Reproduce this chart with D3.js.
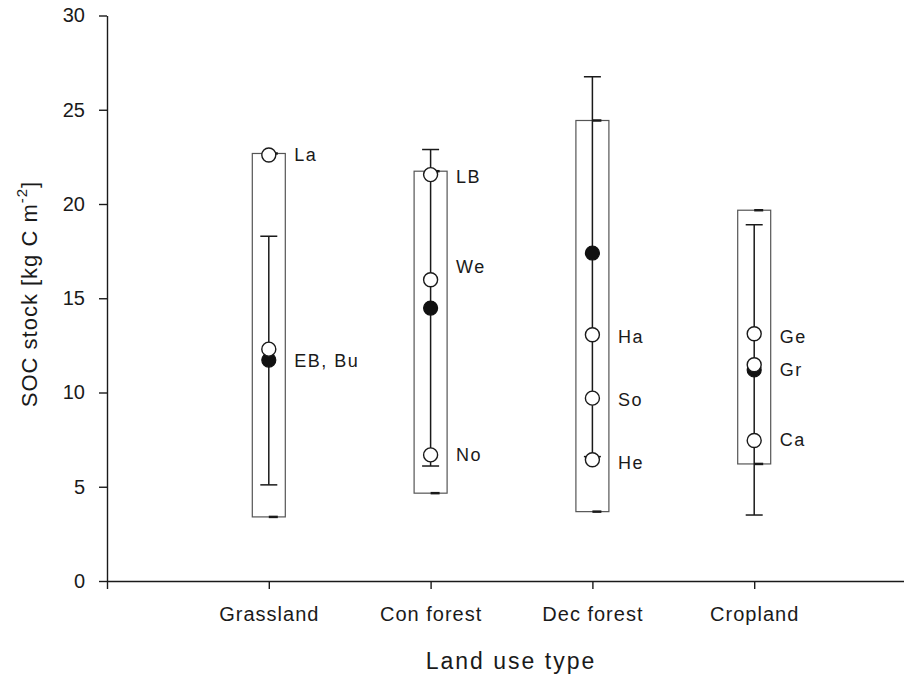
<!DOCTYPE html>
<html>
<head>
<meta charset="utf-8">
<script src="https://cdn.jsdelivr.net/npm/d3@7"></script>
<style>
  body { margin: 0; background: #fff; }
  svg { display: block; font-family: Arial, "Liberation Sans", sans-serif; }
</style>
</head>
<body>
<div id="chart"></div>
<script>
// ─── Data ───
var categories = ['Grassland', 'Con forest', 'Dec forest', 'Cropland'];
var boxLow   = [3.4, 4.66, 3.68, 6.21];
var boxHigh  = [22.68, 21.74, 24.43, 19.67];
var meanVal  = [11.72, 14.48, 17.4, 11.2];
var errLow   = [5.1, 6.1, 6.6, 3.5];
var errHigh  = [18.29, 22.89, 26.75, 18.9];

// individual sites: category index, site value, label text, label anchor value
var siteCat   = [0, 0, 1, 1, 1, 2, 2, 2, 3, 3, 3];
var siteValue = [22.6, 12.3, 21.56, 15.98, 6.69, 13.06, 9.7, 6.43, 13.12, 11.47, 7.45];
var siteName  = ['La', 'EB, Bu', 'LB', 'We', 'No', 'Ha', 'So', 'He', 'Ge', 'Gr', 'Ca'];
var siteLabelAt = [22.6, 11.72, 21.45, 16.69, 6.69, 12.97, 9.61, 6.27, 12.97, 11.2, 7.49];

var yTicks = [0, 5, 10, 15, 20, 25, 30];

// ─── Layout ───
var W = 904, H = 675;
var x = d3.scaleLinear().domain([0, 5]).range([107, 916]);
var y = d3.scaleLinear().domain([0, 30]).range([581, 15.5]);
var boxHalf = 16.5, capHalf = 8.5, r = 7;
var ink = '#1a1a1a';

var svg = d3.select('#chart').append('svg').attr('width', W).attr('height', H);

// axes
var yAxis = svg.append('g').attr('transform', 'translate(' + x(0) + ',0)')
  .call(d3.axisLeft(y).tickValues(yTicks).tickSize(8).tickPadding(14).tickSizeOuter(0));
var xAxis = svg.append('g').attr('transform', 'translate(0,' + y(0) + ')')
  .call(d3.axisBottom(x).tickValues([0, 1, 2, 3, 4]).tickSize(8).tickPadding(18).tickSizeOuter(0)
    .tickFormat(function(d) { return categories[d - 1] || ''; }));
[yAxis, xAxis].forEach(function(a) {
  a.selectAll('path, line').attr('stroke', ink).attr('stroke-width', 1.4);
  a.selectAll('text').attr('fill', ink).attr('font-size', '20px');
});
xAxis.selectAll('text').attr('letter-spacing', '1px');

// axis titles
svg.append('text').attr('x', 511).attr('y', 669).attr('text-anchor', 'middle')
  .attr('font-size', '23px').attr('letter-spacing', '2px').attr('fill', ink).text('Land use type');
var yt = svg.append('text').attr('transform', 'translate(37,' + 294 + ') rotate(-90)')
  .attr('text-anchor', 'middle').attr('font-size', '22px').attr('letter-spacing', '1px').attr('fill', ink);
yt.append('tspan').text('SOC stock [kg C m');
yt.append('tspan').attr('font-size', '15px').attr('dy', '-10').text('-2');
yt.append('tspan').attr('dy', '10').text(']');

// groups
var idx = d3.range(categories.length);
var g = svg.append('g');

// range boxes
g.selectAll('rect.box').data(idx).join('rect').attr('class', 'box')
  .attr('x', function(i) { return x(i + 1) - boxHalf; })
  .attr('y', function(i) { return y(boxHigh[i]); })
  .attr('width', boxHalf * 2)
  .attr('height', function(i) { return y(boxLow[i]) - y(boxHigh[i]); })
  .attr('fill', 'none').attr('stroke', '#555').attr('stroke-width', 1.2);

// small dark marks at box ends
idx.forEach(function(i) {
  [boxLow[i], boxHigh[i]].forEach(function(v) {
    g.append('line').attr('x1', x(i + 1)).attr('x2', x(i + 1) + 9)
      .attr('y1', y(v)).attr('y2', y(v)).attr('stroke', ink).attr('stroke-width', 2.5);
  });
});

// error bars
g.selectAll('line.err').data(idx).join('line').attr('class', 'err')
  .attr('x1', function(i) { return x(i + 1); }).attr('x2', function(i) { return x(i + 1); })
  .attr('y1', function(i) { return y(errHigh[i]); }).attr('y2', function(i) { return y(errLow[i]); })
  .attr('stroke', ink).attr('stroke-width', 1.5);
idx.forEach(function(i) {
  [errLow[i], errHigh[i]].forEach(function(v) {
    g.append('line').attr('x1', x(i + 1) - capHalf).attr('x2', x(i + 1) + capHalf)
      .attr('y1', y(v)).attr('y2', y(v)).attr('stroke', ink).attr('stroke-width', 1.5);
  });
});

// means (filled)
g.selectAll('circle.mean').data(idx).join('circle').attr('class', 'mean')
  .attr('cx', function(i) { return x(i + 1); })
  .attr('cy', function(i) { return y(meanVal[i]); })
  .attr('r', r).attr('fill', '#111').attr('stroke', '#111').attr('stroke-width', 1.2);

// sites (open)
var sIdx = d3.range(siteName.length);
g.selectAll('circle.site').data(sIdx).join('circle').attr('class', 'site')
  .attr('cx', function(j) { return x(siteCat[j] + 1); })
  .attr('cy', function(j) { return y(siteValue[j]); })
  .attr('r', r).attr('fill', '#fff').attr('stroke', ink).attr('stroke-width', 1.4);

g.selectAll('text.site').data(sIdx).join('text').attr('class', 'site')
  .attr('x', function(j) { return x(siteCat[j] + 1) + boxHalf + 9; })
  .attr('y', function(j) { return y(siteLabelAt[j]); })
  .attr('dy', '0.36em').attr('font-size', '18px').attr('letter-spacing', '1.5px').attr('fill', ink)
  .text(function(j) { return siteName[j]; });
</script>
</body>
</html>
